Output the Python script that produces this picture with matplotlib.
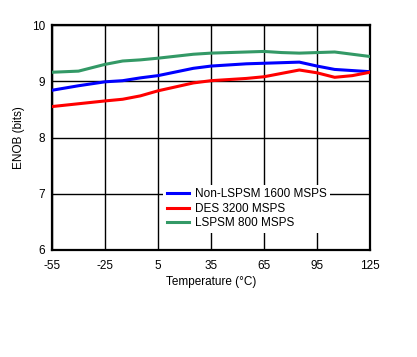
import matplotlib
matplotlib.use("Agg")
import matplotlib.pyplot as plt

plt.rcParams['font.family'] = ['Liberation Sans', 'DejaVu Sans']

temps = [-55, -40, -25, -15, -5, 5, 25, 35, 55, 65, 75, 85, 95, 105, 115, 125]
non_lspsm = [8.84, 8.92, 8.99, 9.01, 9.06, 9.10, 9.23, 9.27, 9.31, 9.32, 9.33, 9.34, 9.27, 9.21, 9.19, 9.17]
des = [8.55, 8.60, 8.65, 8.68, 8.74, 8.83, 8.97, 9.01, 9.05, 9.08, 9.14, 9.20, 9.15, 9.07, 9.10, 9.16]
lspsm = [9.16, 9.18, 9.30, 9.36, 9.38, 9.41, 9.48, 9.50, 9.52, 9.53, 9.51, 9.50, 9.51, 9.52, 9.48, 9.44]

xticks = [-55, -25, 5, 35, 65, 95, 125]
yticks = [6, 7, 8, 9, 10]

fs = 8.5

fig = plt.figure(figsize=(4.17, 3.57), dpi=100)
ax = fig.add_axes([52/417, 1-250/357, 318/417, 225/357])

ax.plot(temps, non_lspsm, color='#0000FF', lw=2.2, label='Non-LSPSM 1600 MSPS', zorder=3)
ax.plot(temps, des, color='#FF0000', lw=2.2, label='DES 3200 MSPS', zorder=3)
ax.plot(temps, lspsm, color='#339966', lw=2.2, label='LSPSM 800 MSPS', zorder=3)

ax.set_xlim(-55, 125)
ax.set_ylim(6, 10)
ax.set_xticks(xticks)
ax.set_yticks(yticks)
ax.set_xticklabels([str(t) for t in xticks])
ax.grid(True, color='black', lw=1.0)
ax.tick_params(axis='x', length=0, labelsize=fs, pad=7)
ax.tick_params(axis='y', length=0, labelsize=fs, pad=5)
for s in ax.spines.values():
    s.set_linewidth(1.6)
ax.set_xlabel('Temperature (°C)', fontsize=fs, labelpad=3)
ax.set_ylabel('ENOB (bits)', fontsize=fs, labelpad=5)

leg = ax.legend(loc='upper left', bbox_to_anchor=(0.35, 0.29), fontsize=fs,
                frameon=True, fancybox=False, edgecolor='none', facecolor='white',
                framealpha=1, handlelength=1.9, handletextpad=0.5, labelspacing=0.22,
                borderpad=0.3, borderaxespad=0)
leg.set_zorder(5)

fig.savefig('out.png', dpi=100)
